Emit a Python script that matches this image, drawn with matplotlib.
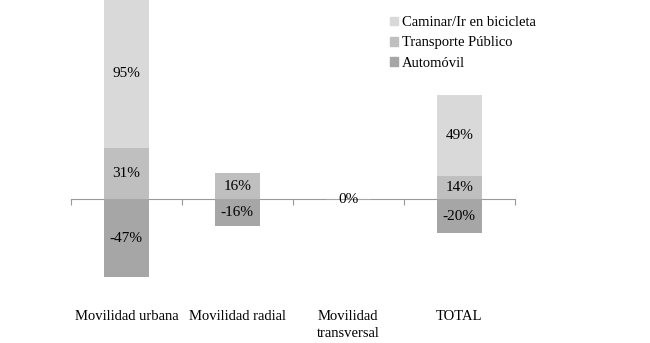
import matplotlib
matplotlib.use("Agg")
import matplotlib.pyplot as plt
from matplotlib.patches import Patch
import numpy as np

plt.rcParams['font.family'] = ['Liberation Serif', 'DejaVu Serif']

categorias = ['Movilidad urbana', 'Movilidad radial', 'Movilidad\ntransversal', 'TOTAL']
automovil = [-47, -16, -0.45, -20]
transporte = [31, 16, 0.3, 14]
caminar = [95, 0, 0, 49]

colores = {'Caminar/Ir en bicicleta': '#d9d9d9',
           'Transporte Público': '#bfbfbf',
           'Automóvil': '#a6a6a6'}

fig = plt.figure(figsize=(6.5, 3.43), dpi=100)
ax = fig.add_axes([0.109, 0.128, 0.683, 0.872])
ymin, ymax = -60, 120
x = np.arange(len(categorias))
ancho = 0.4

b1 = ax.bar(x, automovil, ancho, color=colores['Automóvil'])
b2 = ax.bar(x, transporte, ancho, color=colores['Transporte Público'])
b3 = ax.bar(x, caminar, ancho, bottom=transporte, color=colores['Caminar/Ir en bicicleta'])

def etiquetas(barras, valores, base):
    for b, v, s in zip(barras, valores, base):
        if round(v) == 0 and v > 0:
            continue
        if v == 0:
            continue
        lo, hi = sorted([s, s + v])
        hi = min(hi, ymax)
        lo = max(lo, ymin)
        ax.text(b.get_x() + b.get_width() / 2, (lo + hi) / 2, f"{abs(round(v)) if round(v) == 0 else round(v):d}%",
                ha='center', va='center', fontsize=11)

etiquetas(b1, automovil, [0] * 4)
etiquetas(b2, transporte, [0] * 4)
etiquetas(b3, caminar, transporte)

ax.set_xlim(-0.5, len(categorias) - 0.5)
ax.set_ylim(ymin, ymax)
for s in ['top', 'right', 'left']:
    ax.spines[s].set_visible(False)
ax.spines['bottom'].set_position(('data', 0))
ax.spines['bottom'].set_color('#999999')
ax.spines['bottom'].set_zorder(0.5)
ax.set_yticks([])
ax.set_xticks(np.arange(len(categorias) + 1) - 0.5)
ax.set_xticklabels([])
ax.tick_params(axis='x', direction='out', length=4, color='#999999')

for i, c in enumerate(categorias):
    ax.text(i, -0.035, c, transform=ax.get_xaxis_transform(), ha='center', va='top',
            fontsize=10.5, linespacing=1.4)

handles = [Patch(color=colores[k]) for k in colores]
ax.legend(handles, list(colores), loc='upper left', bbox_to_anchor=(0.69, 0.99),
          frameon=False, fontsize=10.5, handlelength=0.55, handleheight=0.55,
          handletextpad=0.25, labelspacing=0.5)

fig.savefig('out.png', dpi=100)
